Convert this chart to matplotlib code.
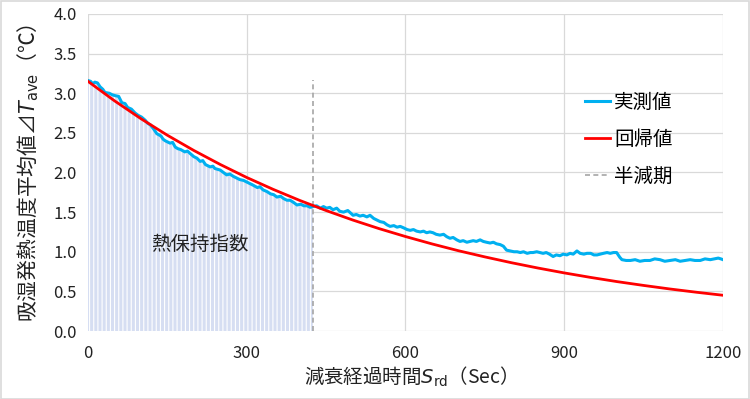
import numpy as np
import matplotlib.pyplot as plt
from matplotlib.patches import Rectangle

plt.rcParams['font.family'] = ['Noto Sans CJK JP', 'DejaVu Sans']
plt.rcParams['mathtext.fontset'] = 'dejavusans'
plt.rcParams['hatch.linewidth'] = 0.8

# measured values (sec, degC)
meas_t = [0, 5, 9, 13, 18, 23, 28, 32, 40, 46,
          51, 58, 64, 70, 75, 82, 89, 95, 101, 108,
          113, 118, 124, 130, 138, 142, 146, 155, 160, 165,
          170, 175, 183, 188, 193, 200, 206, 212, 217, 222,
          231, 236, 240, 245, 250, 256, 262, 268, 275, 281,
          287, 294, 300, 306, 312, 320, 325, 331, 338, 345,
          351, 357, 364, 370, 376, 382, 389, 395, 402, 408,
          414, 420, 425, 432, 439, 445, 451, 457, 463, 470,
          476, 483, 491, 496, 501, 507, 514, 520, 527, 533,
          540, 546, 552, 559, 565, 571, 578, 584, 590, 597,
          603, 609, 615, 621, 628, 634, 640, 646, 652, 658,
          665, 672, 678, 684, 690, 697, 703, 709, 716, 722,
          728, 734, 741, 747, 753, 760, 766, 772, 779, 785,
          791, 798, 805, 811, 817, 823, 830, 836, 841, 848,
          854, 860, 866, 872, 879, 885, 892, 898, 905, 911,
          917, 924, 930, 937, 943, 950, 956, 962, 968, 974,
          981, 987, 993, 999, 1005, 1009, 1017, 1025, 1034, 1043,
          1052, 1062, 1071, 1081, 1090, 1100, 1110, 1119, 1128, 1138,
          1147, 1157, 1166, 1176, 1184, 1191, 1196, 1200]
meas_v = [3.16, 3.15, 3.12, 3.14, 3.13, 3.08, 3.05, 3.01, 3.00, 2.98,
          2.97, 2.96, 2.88, 2.87, 2.82, 2.80, 2.75, 2.72, 2.70, 2.66,
          2.62, 2.60, 2.55, 2.49, 2.46, 2.42, 2.40, 2.37, 2.38, 2.32,
          2.30, 2.29, 2.26, 2.27, 2.24, 2.20, 2.18, 2.14, 2.15, 2.10,
          2.07, 2.08, 2.05, 2.04, 2.03, 2.00, 1.97, 1.98, 1.95, 1.93,
          1.91, 1.90, 1.88, 1.86, 1.84, 1.81, 1.82, 1.78, 1.76, 1.73,
          1.72, 1.69, 1.70, 1.67, 1.65, 1.65, 1.62, 1.59, 1.60, 1.58,
          1.58, 1.56, 1.57, 1.58, 1.55, 1.57, 1.55, 1.56, 1.53, 1.55,
          1.51, 1.50, 1.52, 1.49, 1.46, 1.47, 1.45, 1.46, 1.44, 1.46,
          1.42, 1.40, 1.38, 1.37, 1.34, 1.32, 1.33, 1.31, 1.32, 1.30,
          1.28, 1.27, 1.28, 1.26, 1.25, 1.26, 1.24, 1.25, 1.24, 1.22,
          1.21, 1.22, 1.19, 1.17, 1.18, 1.15, 1.13, 1.14, 1.12, 1.13,
          1.14, 1.13, 1.15, 1.13, 1.12, 1.11, 1.12, 1.10, 1.09, 1.07,
          1.02, 1.01, 1.00, 1.00, 0.99, 1.00, 0.98, 0.99, 0.99, 1.00,
          0.99, 0.98, 0.99, 0.97, 0.94, 0.96, 0.95, 0.97, 0.96, 0.98,
          0.97, 1.01, 0.98, 0.97, 0.98, 0.98, 0.96, 0.96, 0.97, 0.98,
          0.99, 0.98, 0.99, 0.99, 0.93, 0.90, 0.89, 0.89, 0.90, 0.88,
          0.89, 0.89, 0.91, 0.90, 0.88, 0.89, 0.90, 0.88, 0.89, 0.90,
          0.89, 0.89, 0.91, 0.90, 0.91, 0.92, 0.91, 0.90]

# regression values
reg_t = [0, 50, 100, 150, 200, 250, 300, 350, 400, 450, 500, 550, 600, 650, 700, 750,
         800, 850, 900, 950, 1000, 1050, 1100, 1150, 1200]
reg_v = [3.15, 2.905, 2.679, 2.470, 2.278, 2.101, 1.937, 1.787, 1.648, 1.520, 1.401,
         1.292, 1.192, 1.099, 1.013, 0.935, 0.862, 0.795, 0.733, 0.676, 0.623, 0.575,
         0.530, 0.489, 0.451]

half_life = 425
half_top = 3.17

fig = plt.figure(figsize=(7.5, 3.99), dpi=100)
ax = fig.add_axes([0.1173, 0.1704, 0.8467, 0.7946])

t = np.array(meas_t)
v = np.array(meas_v)
m = t <= half_life
ax.fill_between(t[m], 0, v[m], facecolor='#d6def2', edgecolor='white',
                hatch='||||', linewidth=0, zorder=1)

ax.plot(meas_t, meas_v, color='#00b0f0', lw=2.2, label='実測値', zorder=3)
ax.plot(reg_t, reg_v, color='#ff0000', lw=2.0, label='回帰値', zorder=4)
ax.plot([half_life, half_life], [0, half_top], color='#a6a6a6', lw=1.2,
        ls=(0, (3, 2)), label='半減期', zorder=2)

ax.text(212, 1.09, '熱保持指数', fontsize=14, ha='center', va='center', color='#222222', zorder=5)

ax.set_xlim(0, 1200)
ax.set_ylim(0, 4.0)
ax.set_xticks([0, 300, 600, 900, 1200])
ax.set_yticks(np.arange(0, 4.01, 0.5))
ax.set_yticklabels([f'{y:.1f}' for y in np.arange(0, 4.01, 0.5)])
ax.grid(True, color='#d9d9d9', lw=0.9, zorder=0)
ax.set_axisbelow(True)
for s in ax.spines.values():
    s.set_visible(False)
ax.tick_params(length=0, labelsize=12, colors='#222222', pad=8)
ax.tick_params(axis='x', pad=10)

ax.set_xlabel('減衰経過時間$S_{\\mathrm{rd}}$（Sec）', fontsize=14, color='#222222', labelpad=2)
ax.set_ylabel('吸湿発熱温度平均値⊿$T_{\\mathrm{ave}}$（℃）', fontsize=15, color='#222222', labelpad=9)

ax.legend(loc='upper left', bbox_to_anchor=(0.755, 0.81), frameon=False, fontsize=14,
          handlelength=1.3, handletextpad=0.2, labelspacing=0.82)

fig.patches.append(Rectangle((0.001, 0.001), 0.997, 0.997, transform=fig.transFigure,
                             fill=False, edgecolor='#d9d9d9', lw=1.2))

fig.savefig('out.png', dpi=100)
